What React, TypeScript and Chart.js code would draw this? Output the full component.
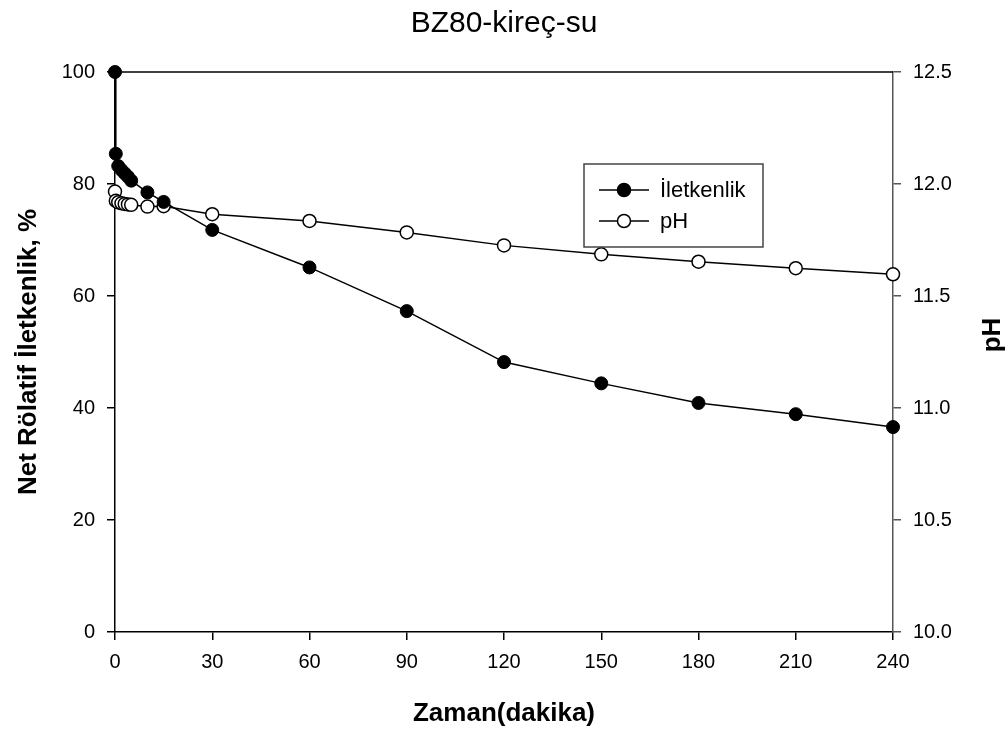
import React, { useEffect, useRef } from "react";
import { Chart, registerables } from "chart.js";

Chart.register(...registerables);

const timeMin = [0, 0.25, 1, 2, 3, 4, 5, 10, 15, 30, 60, 90, 120, 150, 180, 210, 240];
const iletkenlik = [100, 85.4, 83.2, 82.5, 81.9, 81.3, 80.6, 78.5, 76.8, 71.8, 65.1, 57.3, 48.2, 44.4, 40.9, 38.9, 36.6];
const phValues = [11.966, 11.925, 11.918, 11.914, 11.911, 11.909, 11.907, 11.899, 11.901, 11.865, 11.835, 11.784, 11.726, 11.686, 11.653, 11.624, 11.597];
const xTicks = [0, 30, 60, 90, 120, 150, 180, 210, 240];
const leftTicks = [0, 20, 40, 60, 80, 100];
const rightTicks = [10.0, 10.5, 11.0, 11.5, 12.0, 12.5];

const titleText = "BZ80-kireç-su";
const xTitle = "Zaman(dakika)";
const yLeftTitle = "Net Rölatif İletkenlik, %";
const yRightTitle = "pH";
const seriesNames = ["İletkenlik", "pH"];

const FONT = "'Liberation Sans', Arial, Helvetica, sans-serif";

const decorPlugin = {
  id: "decor",
  afterDraw(chart: any) {
    const ctx = chart.ctx as CanvasRenderingContext2D;
    const area = chart.chartArea;
    ctx.save();
    // top frame line
    ctx.strokeStyle = "#000";
    ctx.lineWidth = 1.5;
    ctx.beginPath();
    ctx.moveTo(area.left, area.top);
    ctx.lineTo(area.right, area.top);
    ctx.stroke();

    ctx.fillStyle = "#000";
    // title
    ctx.font = `30px ${FONT}`;
    ctx.textAlign = "center";
    ctx.textBaseline = "alphabetic";
    ctx.fillText(titleText, (area.left + area.right) / 2, 32);

    // x title
    ctx.font = `bold 26px ${FONT}`;
    ctx.fillText(xTitle, (area.left + area.right) / 2, 721);

    // left y title
    const midY = (area.top + area.bottom) / 2;
    ctx.save();
    ctx.translate(36, midY);
    ctx.rotate(-Math.PI / 2);
    ctx.fillText(yLeftTitle, 0, 0);
    ctx.restore();

    // right y title
    ctx.save();
    ctx.translate(1000, midY - 17);
    ctx.rotate(-Math.PI / 2);
    ctx.fillText(yRightTitle, 0, 0);
    ctx.restore();

    // legend
    const bx = 584, by = 164, bw = 179, bh = 83;
    ctx.strokeStyle = "#444";
    ctx.lineWidth = 1.5;
    ctx.strokeRect(bx, by, bw, bh);
    const rows = [190, 221];
    chart.data.datasets.forEach((ds: any, i: number) => {
      const y = rows[i];
      ctx.strokeStyle = "#000";
      ctx.lineWidth = 1.5;
      ctx.beginPath();
      ctx.moveTo(599, y);
      ctx.lineTo(649, y);
      ctx.stroke();
      ctx.beginPath();
      ctx.arc(624, y, 6.5, 0, Math.PI * 2);
      ctx.fillStyle = ds.pointBackgroundColor;
      ctx.fill();
      ctx.lineWidth = 1.5;
      ctx.strokeStyle = "#000";
      ctx.stroke();
      ctx.fillStyle = "#000";
      ctx.font = `22px ${FONT}`;
      ctx.textAlign = "left";
      ctx.textBaseline = "middle";
      ctx.fillText(seriesNames[i], 660, y + 1);
    });
    ctx.restore();
  },
};

export default function App() {
  const canvasRef = useRef<HTMLCanvasElement | null>(null);

  useEffect(() => {
    document.body.style.margin = "0";
    const canvas = canvasRef.current;
    if (!canvas) return;
    const chart = new Chart(canvas, {
      type: "line",
      data: {
        datasets: [
          {
            label: seriesNames[0],
            data: timeMin.map((t, i) => ({ x: t, y: iletkenlik[i] })),
            yAxisID: "y",
            borderColor: "#000",
            borderWidth: 1.5,
            pointRadius: 6.5,
            pointBackgroundColor: "#000",
            pointBorderColor: "#000",
            pointBorderWidth: 1,
            tension: 0,
            clip: false as any,
          },
          {
            label: seriesNames[1],
            data: timeMin.map((t, i) => ({ x: t, y: phValues[i] })),
            yAxisID: "y2",
            borderColor: "#000",
            borderWidth: 1.5,
            pointRadius: 6.5,
            pointBackgroundColor: "#fff",
            pointBorderColor: "#000",
            pointBorderWidth: 1.5,
            tension: 0,
            clip: false as any,
          },
        ],
      },
      options: {
        animation: false,
        responsive: false,
        devicePixelRatio: 1,
        layout: { padding: { top: 72, left: 0, right: 0, bottom: 0 } },
        plugins: {
          legend: { display: false },
          title: { display: false },
          tooltip: { enabled: false },
        },
        scales: {
          x: {
            type: "linear",
            min: 0,
            max: 240,
            afterFit: (s: any) => { s.height = 99; },
            afterBuildTicks: (s: any) => { s.ticks = xTicks.map((v) => ({ value: v })); },
            ticks: {
              autoSkip: false,
              maxRotation: 0,
              padding: 10,
              color: "#000",
              font: { family: FONT, size: 20 },
            },
            grid: { drawOnChartArea: false, drawTicks: true, tickLength: 8, color: "#000", lineWidth: 1.5 },
            border: { display: true, color: "#000", width: 1.5 },
          },
          y: {
            type: "linear",
            position: "left",
            min: 0,
            max: 100,
            afterFit: (s: any) => { s.width = 115; },
            afterBuildTicks: (s: any) => { s.ticks = leftTicks.map((v) => ({ value: v })); },
            ticks: {
              padding: 12,
              color: "#000",
              font: { family: FONT, size: 20 },
            },
            grid: { drawOnChartArea: false, drawTicks: true, tickLength: 8, color: "#000", lineWidth: 1.5 },
            border: { display: true, color: "#000", width: 1.5 },
          },
          y2: {
            type: "linear",
            position: "right",
            min: 10,
            max: 12.5,
            afterFit: (s: any) => { s.width = 115; },
            afterBuildTicks: (s: any) => { s.ticks = rightTicks.map((v) => ({ value: v })); },
            ticks: {
              padding: 12,
              color: "#000",
              font: { family: FONT, size: 20 },
              callback: (v: any) => Number(v).toFixed(1),
            },
            grid: { drawOnChartArea: false, drawTicks: true, tickLength: 8, color: "#555", lineWidth: 1.5 },
            border: { display: true, color: "#555", width: 1.5 },
          },
        },
      },
      plugins: [decorPlugin],
    } as any);
    return () => chart.destroy();
  }, []);

  return (
    <div style={{ position: "absolute", left: 0, top: 0, width: 1008, height: 731, background: "#fff" }}>
      <canvas ref={canvasRef} width={1008} height={731} style={{ width: 1008, height: 731, display: "block" }} />
    </div>
  );
}
